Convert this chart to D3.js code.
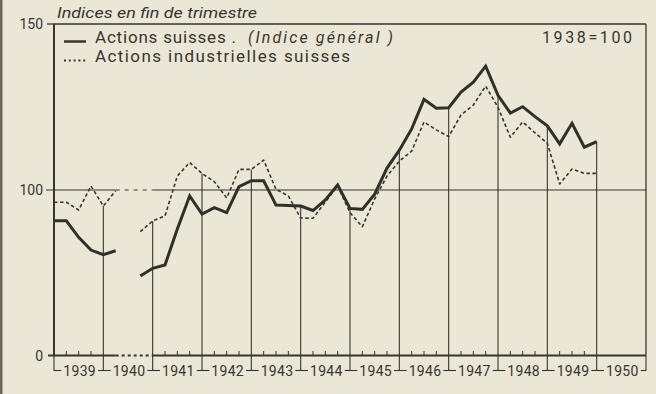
<!DOCTYPE html>
<html>
<head>
<meta charset="utf-8">
<script src="https://cdn.jsdelivr.net/npm/d3@7"></script>
<style>
  html, body { margin: 0; padding: 0; background: #ebe7d7; }
  svg { display: block; }
  text { font-family: Roboto, "Liberation Sans", sans-serif; fill: #38352f; }
</style>
</head>
<body>
<svg id="chart" width="656" height="394"></svg>
<script>
// End-of-quarter dates (1939.00 = end of 1938), 1938 = 100
const quarters = [
  1939.00, 1939.25, 1939.50, 1939.75,
  1940.00, 1940.25, 1940.50, 1940.75,
  1941.00, 1941.25, 1941.50, 1941.75,
  1942.00, 1942.25, 1942.50, 1942.75,
  1943.00, 1943.25, 1943.50, 1943.75,
  1944.00, 1944.25, 1944.50, 1944.75,
  1945.00, 1945.25, 1945.50, 1945.75,
  1946.00, 1946.25, 1946.50, 1946.75,
  1947.00, 1947.25, 1947.50, 1947.75,
  1948.00, 1948.25, 1948.50, 1948.75,
  1949.00, 1949.25, 1949.50, 1949.75,
  1950.00
];

// Actions suisses (indice général)
const generalIndex = [
  81.4, 81.4, 71.4, 63.7,
  60.9, 63.3, null, 48.0,
  52.7, 54.7, 76.4, 96.4,
  85.5, 89.3, 86.3, 101.0,
  102.8, 102.8, 90.9, 90.6,
  90.3, 87.6, 94.0, 101.5,
  88.9, 88.3, 97.5, 106.6,
  112.0, 118.4, 127.3, 124.6,
  124.8, 129.5, 132.5, 137.3,
  128.5, 123.2, 125.1, 122.1,
  119.3, 113.9, 120.1, 112.9,
  114.6
];

// Actions industrielles suisses
const industrialIndex = [
  92.6, 92.6, 87.9, 101.2,
  90.3, 99.6, null, 74.8,
  81.3, 84.3, 104.2, 108.3,
  105.0, 102.5, 95.2, 106.2,
  106.2, 109.0, 100.2, 96.4,
  83.1, 82.9, 92.7, 101.2,
  86.3, 77.8, 94.6, 104.2,
  108.7, 111.7, 120.5, 118.1,
  116.1, 122.6, 125.6, 131.3,
  124.9, 115.9, 120.5, 117.2,
  114.1, 101.8, 106.3, 105.0,
  105.0
];

const years = ["1939", "1940", "1941", "1942", "1943", "1944",
               "1945", "1946", "1947", "1948", "1949", "1950"];
const yTicks = [0, 100, 150];

// ---------------------------------------------------------------
const ink = "#38352f";
const svg = d3.select("#chart");

const x = d3.scaleLinear().domain([1939, 1951]).range([54, 646]);
// broken value axis: 0–100 compressed, 100–150 expanded
const y = d3.scaleLinear().domain([0, 100, 150]).range([355.5, 190, 24]);

// dark scan edge on the left
svg.append("rect").attr("x", 0).attr("y", 0).attr("width", 2.5).attr("height", 394)
  .attr("fill", "#6a665e");

const gapStart = 1940.25, gapEnd = 1941;

// frame: top and right
svg.append("line").attr("x1", x(1939)).attr("x2", x(1951)).attr("y1", y(150)).attr("y2", y(150))
  .attr("stroke", ink).attr("stroke-width", 1.3);
svg.append("line").attr("x1", x(1951)).attr("x2", x(1951)).attr("y1", y(150)).attr("y2", y(0))
  .attr("stroke", ink).attr("stroke-width", 1.3);

// reference line at 100 and base line at 0, dotted across the 1940 gap
function brokenRule(v, w, dash) {
  const yy = y(v);
  svg.append("line").attr("x1", x(1939) - (v === 0 ? 6 : 8)).attr("x2", x(gapStart)).attr("y1", yy).attr("y2", yy)
    .attr("stroke", ink).attr("stroke-width", w);
  svg.append("line").attr("x1", x(gapStart)).attr("x2", x(gapEnd)).attr("y1", yy).attr("y2", yy)
    .attr("stroke", ink).attr("stroke-width", w).attr("stroke-dasharray", dash);
  svg.append("line").attr("x1", x(gapEnd)).attr("x2", x(1951)).attr("y1", yy).attr("y2", yy)
    .attr("stroke", ink).attr("stroke-width", w);
}
brokenRule(100, 1.2, "4,5");
brokenRule(0, 2.2, "3,3");

// value axis
svg.append("line").attr("x1", x(1939)).attr("x2", x(1939)).attr("y1", y(150)).attr("y2", y(0) + 1)
  .attr("stroke", ink).attr("stroke-width", 2);
svg.append("line").attr("x1", x(1939) - 7).attr("x2", x(1939)).attr("y1", y(150)).attr("y2", y(150))
  .attr("stroke", ink).attr("stroke-width", 1.3);
svg.selectAll("text.ytick").data(yTicks).join("text")
  .attr("class", "ytick")
  .attr("x", 43).attr("y", d => y(d) + 5)
  .attr("text-anchor", "end")
  .attr("font-size", 14)
  .text(d => d);

// vertical rules at each year boundary, up to the higher curve
const boundaryIdx = d3.range(1940, 1951).map(yr => quarters.indexOf(yr));
svg.selectAll("line.yearRule").data(boundaryIdx).join("line")
  .attr("class", "yearRule")
  .attr("x1", i => x(quarters[i])).attr("x2", i => x(quarters[i]))
  .attr("y1", y(0))
  .attr("y2", i => y(Math.max(generalIndex[i], industrialIndex[i])))
  .attr("stroke", ink).attr("stroke-width", 1.1);

// quarter ticks on the base line
const qTicks = quarters.filter(q => q % 1 !== 0 && Math.floor(q) !== 1940);
svg.selectAll("line.qtick").data(qTicks).join("line")
  .attr("class", "qtick")
  .attr("x1", d => x(d)).attr("x2", d => x(d))
  .attr("y1", y(0)).attr("y2", y(0) - 4.5)
  .attr("stroke", ink).attr("stroke-width", 1);

// year labels with bracket-like connectors
const labelY = 375.5, connY = 370.5;
const boundaries = d3.range(1939, 1952);
svg.selectAll("line.ybound").data(boundaries).join("line")
  .attr("class", "ybound")
  .attr("x1", d => x(d)).attr("x2", d => x(d))
  .attr("y1", y(0)).attr("y2", connY + 0.5)
  .attr("stroke", ink).attr("stroke-width", 1.1);

years.forEach((lab, i) => {
  const x0 = x(1939 + i), x1 = x(1940 + i), cx = (x0 + x1) / 2 + 1;
  const t = svg.append("text")
    .attr("x", cx).attr("y", labelY)
    .attr("text-anchor", "middle")
    .attr("font-size", 14)
    .attr("letter-spacing", 0.3)
    .text(lab);
  const w = t.node().getComputedTextLength();
  svg.append("line").attr("x1", x0).attr("x2", cx - w / 2 - 2).attr("y1", connY).attr("y2", connY)
    .attr("stroke", ink).attr("stroke-width", 1.1);
  svg.append("line").attr("x1", cx + w / 2 + 2).attr("x2", x1).attr("y1", connY).attr("y2", connY)
    .attr("stroke", ink).attr("stroke-width", 1.1);
});

// series
const lineGen = vals => d3.line()
  .defined((d, i) => vals[i] !== null)
  .x((d, i) => x(quarters[i]))
  .y((d, i) => y(vals[i]))
  .curve(d3.curveLinear)(vals);

svg.append("path").attr("d", lineGen(industrialIndex))
  .attr("fill", "none").attr("stroke", ink).attr("stroke-width", 1.6)
  .attr("stroke-dasharray", "3.5,2.5").attr("stroke-linejoin", "round");

svg.append("path").attr("d", lineGen(generalIndex))
  .attr("fill", "none").attr("stroke", "#322f2a").attr("stroke-width", 3)
  .attr("stroke-linejoin", "miter");

// title
svg.append("text").attr("x", 57).attr("y", 18)
  .attr("font-size", 14).attr("font-style", "italic")
  .attr("textLength", 200).attr("lengthAdjust", "spacingAndGlyphs")
  .text("Indices en fin de trimestre");

// legend
svg.append("line").attr("x1", 64).attr("x2", 86).attr("y1", 41.5).attr("y2", 41.5)
  .attr("stroke", ink).attr("stroke-width", 2.5);
svg.append("text").attr("x", 95).attr("y", 43).attr("font-size", 17)
  .attr("textLength", 141).attr("lengthAdjust", "spacing")
  .text("Actions suisses .");
svg.append("text").attr("x", 248).attr("y", 43).attr("font-size", 16).attr("font-style", "italic")
  .attr("textLength", 145).attr("lengthAdjust", "spacing")
  .text("(Indice général )");

svg.append("line").attr("x1", 64).attr("x2", 88).attr("y1", 60.5).attr("y2", 60.5)
  .attr("stroke", ink).attr("stroke-width", 2).attr("stroke-dasharray", "2,2.8");
svg.append("text").attr("x", 95).attr("y", 62).attr("font-size", 17)
  .attr("textLength", 255).attr("lengthAdjust", "spacing")
  .text("Actions industrielles suisses");

svg.append("text").attr("x", 542).attr("y", 43).attr("font-size", 16)
  .attr("textLength", 90).attr("lengthAdjust", "spacing")
  .text("1938=100");
</script>
</body>
</html>
